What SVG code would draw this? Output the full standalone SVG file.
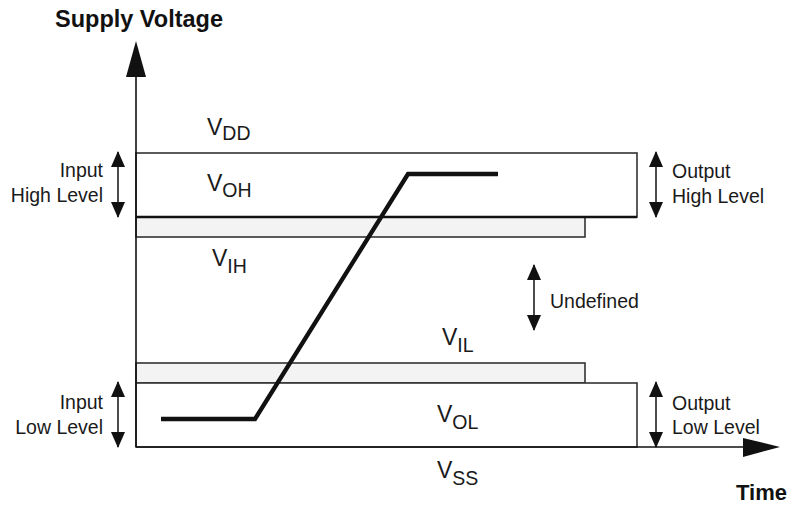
<svg xmlns="http://www.w3.org/2000/svg" width="792" height="509" viewBox="0 0 792 509">
<defs>
<style>
.lbl{font-family:"Liberation Sans",Arial,sans-serif;font-size:19.5px;fill:#1a1a1a}
.ttl{font-family:"Liberation Sans",Arial,sans-serif;font-size:23.5px;font-weight:bold;fill:#111}
.v{font-family:"Liberation Sans",Arial,sans-serif;font-size:23px;fill:#1a1a1a}
.sub{font-size:19.5px}
.box{fill:#fff;stroke:#333;stroke-width:1.6}
.band{fill:#f3f3f3;stroke:#333;stroke-width:1.6}
.dbl{stroke:#111;stroke-width:1.5;fill:none;marker-start:url(#ah);marker-end:url(#ah)}
</style>
<marker id="ah" viewBox="0 0 16 14" refX="15" refY="7" markerWidth="16" markerHeight="14" markerUnits="userSpaceOnUse" orient="auto-start-reverse">
<path d="M0,0 L16,7 L0,14 Z" fill="#111"/>
</marker>
</defs>
<g id="title"><text class="ttl" x="55" y="27">Supply Voltage</text></g>
<g id="time-label"><text class="ttl" x="736" y="500" style="font-size:22px">Time</text></g>

<g id="high-band"><rect class="band" x="136" y="217" width="449" height="20"/></g>
<g id="high-box"><rect class="box" x="136" y="153" width="501" height="64"/><line x1="136" y1="217" x2="637" y2="217" stroke="#111" stroke-width="2.4"/></g>
<g id="low-band"><rect class="band" x="136" y="363" width="449" height="20"/></g>
<g id="low-box"><rect class="box" x="136" y="383" width="501" height="64"/></g>

<g id="labels-v">
<text class="v" x="207" y="135">V<tspan class="sub" dy="5">DD</tspan></text>
<text class="v" x="207" y="191">V<tspan class="sub" dy="6">OH</tspan></text>
<text class="v" x="212" y="266">V<tspan class="sub" dy="7">IH</tspan></text>
<text class="v" x="442" y="345">V<tspan class="sub" dy="7">IL</tspan></text>
<text class="v" x="437" y="422">V<tspan class="sub" dy="7">OL</tspan></text>
<text class="v" x="437" y="478">V<tspan class="sub" dy="7">SS</tspan></text>
</g>

<g id="connectors">
<line x1="136" y1="447" x2="136" y2="76" stroke="#111" stroke-width="1.6"/>
<polygon points="136,41 126,77 146,77" fill="#111"/>
<line x1="136" y1="447" x2="744" y2="447" stroke="#111" stroke-width="1.6"/>
<polygon points="780,447 743,438 743,457" fill="#111"/>
<line class="dbl" x1="118" y1="152" x2="118" y2="217"/>
<line class="dbl" x1="118" y1="382" x2="118" y2="447"/>
<line class="dbl" x1="656" y1="152" x2="656" y2="217"/>
<line class="dbl" x1="656" y1="382" x2="656" y2="447"/>
<line class="dbl" x1="534" y1="265" x2="534" y2="330"/>
<polyline points="161,419 255,419 408,174 498,174" fill="none" stroke="#111" stroke-width="4.3"/>
</g>

<g id="input-high"><text class="lbl" text-anchor="end" x="103" y="177">Input</text><text class="lbl" text-anchor="end" x="103" y="202">High Level</text></g>
<g id="input-low"><text class="lbl" text-anchor="end" x="103" y="409">Input</text><text class="lbl" text-anchor="end" x="103" y="434">Low Level</text></g>
<g id="output-high"><text class="lbl" x="672" y="178">Output</text><text class="lbl" x="672" y="203">High Level</text></g>
<g id="output-low"><text class="lbl" x="672" y="410">Output</text><text class="lbl" x="672" y="434">Low Level</text></g>
<g id="undefined"><text class="lbl" x="550" y="308">Undefined</text></g>
</svg>
